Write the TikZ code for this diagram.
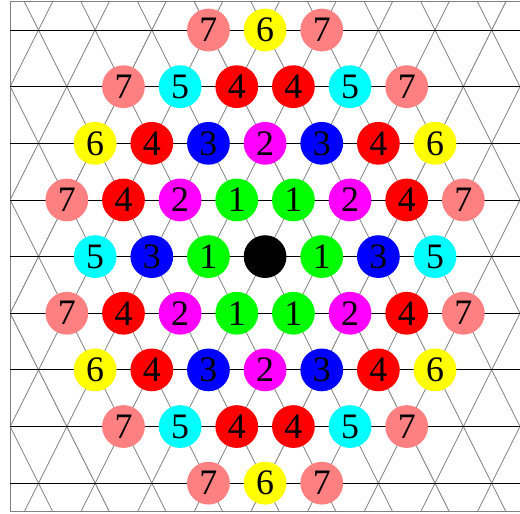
\documentclass[tikz,border=0pt]{standalone}
\usepackage{fontspec}
\setmainfont{Liberation Serif}
\newfontfamily\sitefont{Liberation Serif}
\usepackage{xcolor}
\definecolor{salmonpink}{RGB}{255,128,128}
\definecolor{pgreen}{RGB}{0,255,0}
\definecolor{pmagenta}{RGB}{255,0,255}
\definecolor{pblue}{RGB}{0,0,255}
\definecolor{pred}{RGB}{255,0,0}
\definecolor{pcyan}{RGB}{0,255,255}
\definecolor{pyellow}{RGB}{255,255,0}

\begin{document}
\begin{tikzpicture}[x=1cm,y=1cm,
  site/.style={circle,inner sep=0pt,minimum size=7.55mm,font=\sitefont\fontsize{18}{21}\selectfont},
  sh0/.style={site,fill=black},
  sh1/.style={site,fill=pgreen},
  sh2/.style={site,fill=pmagenta},
  sh3/.style={site,fill=pblue},
  sh4/.style={site,fill=pred},
  sh5/.style={site,fill=pcyan},
  sh6/.style={site,fill=pyellow},
  sh7/.style={site,fill=salmonpink},
  lattice/.style={gray,thin},
  rowline/.style={black,thin}]
\useasboundingbox (-4.68,-4.53) rectangle (4.5,4.53);
% slanted lattice lines, kept inside the frame
\begin{scope}
  \clip (-4.5,-4.5) rectangle (4.5,4.5);
  \foreach \k in {-7,...,7} {
    \draw[lattice] (\k-2.25,-4.5) -- (\k+2.25,4.5);
    \draw[lattice] (\k+2.25,-4.5) -- (\k-2.25,4.5);
  }
\end{scope}
\draw[lattice] (-4.5,-4.5) rectangle (4.5,4.5);
% horizontal rows
\foreach \j in {-4,...,4}
  \draw[rowline] (-4.5,\j) -- (4.5,\j);
% sites, top row to bottom row
\node[sh7] (a1) at (-1,4) {7};
\node[sh6] (a2) at (0,4)  {6};
\node[sh7] (a3) at (1,4)  {7};
\node[sh7] (b1) at (-2.5,3) {7};
\node[sh5] (b2) at (-1.5,3) {5};
\node[sh4] (b3) at (-0.5,3) {4};
\node[sh4] (b4) at (0.5,3)  {4};
\node[sh5] (b5) at (1.5,3)  {5};
\node[sh7] (b6) at (2.5,3)  {7};
\node[sh6] (c1) at (-3,2) {6};
\node[sh4] (c2) at (-2,2) {4};
\node[sh3] (c3) at (-1,2) {3};
\node[sh2] (c4) at (0,2)  {2};
\node[sh3] (c5) at (1,2)  {3};
\node[sh4] (c6) at (2,2)  {4};
\node[sh6] (c7) at (3,2)  {6};
\node[sh7] (d1) at (-3.5,1) {7};
\node[sh4] (d2) at (-2.5,1) {4};
\node[sh2] (d3) at (-1.5,1) {2};
\node[sh1] (d4) at (-0.5,1) {1};
\node[sh1] (d5) at (0.5,1)  {1};
\node[sh2] (d6) at (1.5,1)  {2};
\node[sh4] (d7) at (2.5,1)  {4};
\node[sh7] (d8) at (3.5,1)  {7};
\node[sh5] (e1) at (-3,0) {5};
\node[sh3] (e2) at (-2,0) {3};
\node[sh1] (e3) at (-1,0) {1};
\node[sh0] (e4) at (0,0)  {};
\node[sh1] (e5) at (1,0)  {1};
\node[sh3] (e6) at (2,0)  {3};
\node[sh5] (e7) at (3,0)  {5};
\node[sh7] (f1) at (-3.5,-1) {7};
\node[sh4] (f2) at (-2.5,-1) {4};
\node[sh2] (f3) at (-1.5,-1) {2};
\node[sh1] (f4) at (-0.5,-1) {1};
\node[sh1] (f5) at (0.5,-1)  {1};
\node[sh2] (f6) at (1.5,-1)  {2};
\node[sh4] (f7) at (2.5,-1)  {4};
\node[sh7] (f8) at (3.5,-1)  {7};
\node[sh6] (g1) at (-3,-2) {6};
\node[sh4] (g2) at (-2,-2) {4};
\node[sh3] (g3) at (-1,-2) {3};
\node[sh2] (g4) at (0,-2)  {2};
\node[sh3] (g5) at (1,-2)  {3};
\node[sh4] (g6) at (2,-2)  {4};
\node[sh6] (g7) at (3,-2)  {6};
\node[sh7] (h1) at (-2.5,-3) {7};
\node[sh5] (h2) at (-1.5,-3) {5};
\node[sh4] (h3) at (-0.5,-3) {4};
\node[sh4] (h4) at (0.5,-3)  {4};
\node[sh5] (h5) at (1.5,-3)  {5};
\node[sh7] (h6) at (2.5,-3)  {7};
\node[sh7] (i1) at (-1,-4) {7};
\node[sh6] (i2) at (0,-4)  {6};
\node[sh7] (i3) at (1,-4)  {7};
\end{tikzpicture}
\end{document}
